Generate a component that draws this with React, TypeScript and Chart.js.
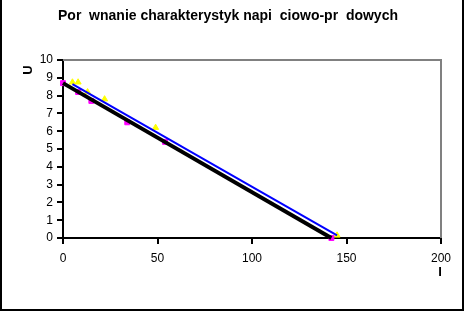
import React, { useEffect, useRef } from "react";
import { Chart, registerables } from "chart.js";

Chart.register(...registerables);

const titleText = "Por  wnanie charakterystyk napi  ciowo-pr  dowych";
const yTitle = "U";
const xTitle = "I";

const measuredI = [0, 8, 15, 34, 54, 142];
const measuredU = [8.7, 8.2, 7.7, 6.5, 5.4, 0];
const modelI = [5, 8, 13, 22, 49, 145];
const modelU = [8.75, 8.75, 8.2, 7.8, 6.2, 0.15];
const trendMeasuredI = [0, 142];
const trendMeasuredU = [8.7, 0];
const trendModelI = [5, 145];
const trendModelU = [8.65, 0.15];

const xMin = 0, xMax = 200, xStep = 50;
const yMin = 0, yMax = 10, yStep = 1;

const pts = (xs: number[], ys: number[]) => xs.map((x, i) => ({ x, y: ys[i] }));

const FONT = "Arial, 'Liberation Sans', sans-serif";

const decorPlugin = {
  id: "decor",
  beforeDatasetsDraw(chart: any) {
    const { ctx, chartArea } = chart;
    ctx.save();
    ctx.strokeStyle = "#808080";
    ctx.lineWidth = 2;
    ctx.beginPath();
    ctx.moveTo(chartArea.left, chartArea.top);
    ctx.lineTo(chartArea.right, chartArea.top);
    ctx.lineTo(chartArea.right, chartArea.bottom);
    ctx.stroke();
    ctx.restore();
  },
  afterDraw(chart: any) {
    const { ctx, width, height, chartArea } = chart;
    ctx.save();
    ctx.fillStyle = "#000";
    ctx.textAlign = "center";
    ctx.textBaseline = "middle";
    ctx.font = `bold 14px ${FONT}`;
    ctx.fillText(titleText, 228, 16);
    ctx.font = `bold 13px ${FONT}`;
    ctx.fillText(xTitle, chartArea.right - 1, 272);
    ctx.translate(28, 70);
    ctx.rotate(-Math.PI / 2);
    ctx.fillText(yTitle, 0, 0);
    ctx.restore();
    ctx.save();
    ctx.strokeStyle = "#000";
    ctx.lineWidth = 2;
    ctx.beginPath();
    ctx.moveTo(1, 0);
    ctx.lineTo(1, height - 2);
    ctx.lineTo(width - 2, height - 2);
    ctx.lineTo(width - 2, 0);
    ctx.stroke();
    ctx.restore();
  },
};

export default function App() {
  const ref = useRef<HTMLCanvasElement | null>(null);
  useEffect(() => {
    document.body.style.margin = "0";
    const canvas = ref.current!;
    const chart = new Chart(canvas, {
      type: "scatter",
      data: {
        datasets: [
          {
            data: pts(trendMeasuredI, trendMeasuredU),
            showLine: true,
            borderColor: "#000000",
            borderWidth: 4,
            pointRadius: 0,
            clip: false as any,
          },
          {
            data: pts(trendModelI, trendModelU),
            showLine: true,
            borderColor: "#0000ff",
            borderWidth: 2,
            pointRadius: 0,
            clip: false as any,
          },
          {
            data: pts(measuredI, measuredU),
            pointStyle: "rect",
            pointRadius: 3.5,
            backgroundColor: "#ff00ff",
            borderColor: "#ff00ff",
            borderWidth: 1,
            clip: false as any,
          },
          {
            data: pts(modelI, modelU),
            pointStyle: "triangle",
            pointRadius: 3.5,
            backgroundColor: "#ffff00",
            borderColor: "#ffff00",
            borderWidth: 1,
            clip: false as any,
          },
        ],
      },
      options: {
        animation: false,
        responsive: false,
        devicePixelRatio: 1,
        layout: { padding: { top: 60, right: 24, left: 0, bottom: 0 } },
        plugins: { legend: { display: false }, tooltip: { enabled: false }, title: { display: false } },
        scales: {
          x: {
            type: "linear",
            min: xMin,
            max: xMax,
            ticks: { stepSize: xStep, color: "#000", font: { family: FONT, size: 12 }, padding: 7, maxRotation: 0 },
            grid: { drawOnChartArea: false, drawTicks: true, tickLength: 6, color: "#000", lineWidth: 2 },
            border: { color: "#000", width: 2 },
            afterFit: (s: any) => { s.height = 74; },
          },
          y: {
            type: "linear",
            min: yMin,
            max: yMax,
            ticks: { stepSize: yStep, color: "#000", font: { family: FONT, size: 12 }, padding: 4 },
            grid: { drawOnChartArea: false, drawTicks: true, tickLength: 6, color: "#000", lineWidth: 2 },
            border: { color: "#000", width: 2 },
            afterFit: (s: any) => { s.width = 63; },
          },
        },
      },
      plugins: [decorPlugin],
    });
    return () => chart.destroy();
  }, []);
  return <canvas ref={ref} width={465} height={312} style={{ display: "block" }} />;
}
